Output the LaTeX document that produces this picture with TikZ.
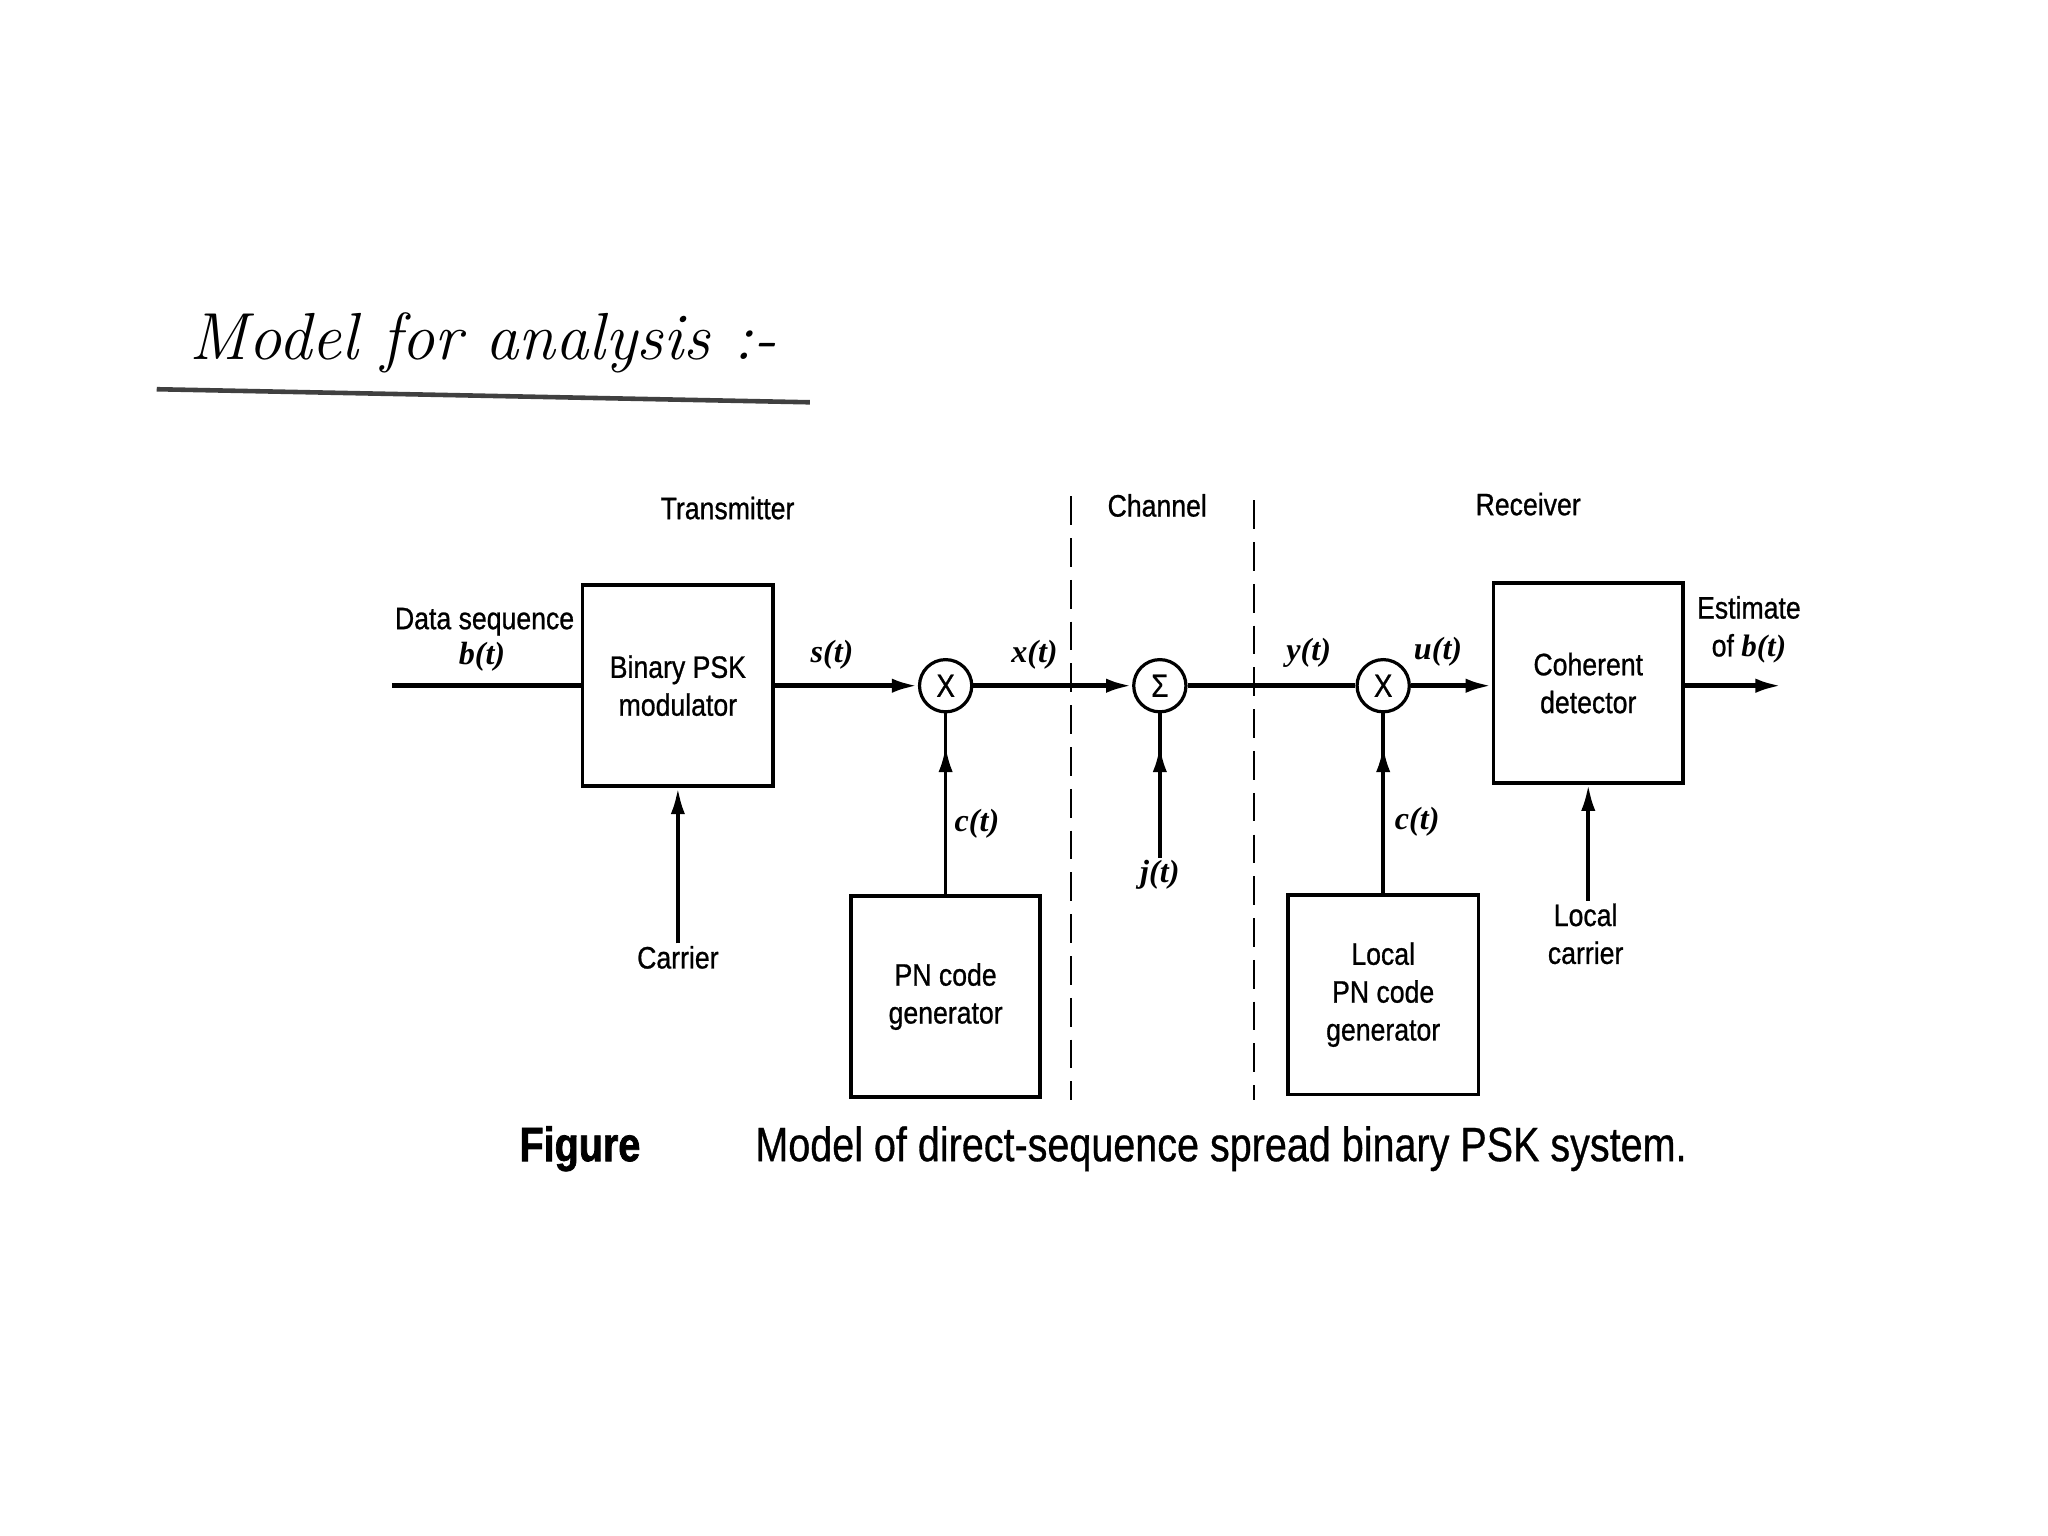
\documentclass[tikz,border=0pt]{standalone}
\usepackage{fontspec}
\newfontfamily\labfont[FakeStretch=0.86,FakeBold=0.8]{Liberation Sans}
\newfontfamily\capfont[FakeStretch=0.82,FakeBold=0.6]{Liberation Sans}
\newfontfamily\figfont[FakeStretch=0.82,FakeBold=1.5]{Liberation Sans}
\newfontfamily\sigfont{Liberation Serif}
\usetikzlibrary{arrows.meta,decorations.markings}
\tikzset{
  tip/.tip={Latex[length=0.4cm,width=0.22cm]},
  blk/.style={draw, line width=1.6pt, inner sep=0pt, align=center,
    font=\labfont\fontsize{13.5}{16.5}\selectfont},
  mult/.style={circle, draw, line width=1.4pt, minimum size=0.8cm, inner sep=0pt,
    font=\labfont\fontsize{14}{14}\selectfont},
  lab/.style={font=\labfont\fontsize{13.5}{16.5}\selectfont, align=center, inner sep=1pt},
  sigl/.style={font=\sigfont\bfseries\itshape\fontsize{14}{16}\selectfont, inner sep=1pt},
  mainline/.style={line width=2pt},
  vline/.style={line width=1.6pt},
  upmark/.style={postaction={decorate}, decoration={markings,
    mark=at position -0.5cm with {\arrow{tip}}}},
  sep/.style={line width=1.2pt, dash pattern=on 0.44cm off 0.2cm},
}
\begin{document}
\begin{tikzpicture}[x=0.02cm,y=-0.02cm]
\useasboundingbox (0,0) rectangle (1568,1176);

% handwritten title
\node[anchor=base west, inner sep=0pt, font=\rmfamily\itshape\fontsize{29}{29}\selectfont] (title) at (145,275) {Model for analysis :-};
\draw[line width=2pt, black!75] (120,298) -- (620,308);

% section labels
\node[lab] (tx) at (557,389) {Transmitter};
\node[lab] (ch) at (886,387) {Channel};
\node[lab] (rx) at (1170,386) {Receiver};

% separators
\draw[sep] (820,380) -- (820,842);
\draw[sep] (960,383) -- (960,842);

% blocks
\node[blk, minimum width=2.92cm, minimum height=3.08cm] (psk) at (519,525) {Binary PSK\\modulator};
\node[blk, minimum width=2.90cm, minimum height=3.08cm] (pn1) at (724,763) {PN code\\generator};
\node[blk, minimum width=2.92cm, minimum height=3.06cm] (pn2) at (1059,761.5) {Local\\PN code\\generator};
\node[blk, minimum width=2.90cm, minimum height=3.06cm] (det) at (1216,523) {Coherent\\detector};

\node[mult] (m1) at (724,525) {X};
\node[mult] (sum) at (888,525) {\labfont Σ};
\node[mult] (m2) at (1059,525) {X};

% external labels
\node[lab] (data) at (371,476) {Data sequence};
\node[sigl] (bt) at (369,503) {b(t)};
\node[sigl] (st) at (637,501) {s(t)};
\node[sigl] (xt) at (792,501) {x(t)};
\node[sigl] (yt) at (1002,500) {y(t)};
\node[sigl] (ut) at (1101,499) {u(t)};
\node[lab] (est) at (1339,482) {Estimate\\of \textbf{\textit{\sigfont b(t)}}};
\node[lab] (car) at (519,733) {Carrier};
\node[sigl] (ct1) at (748,631) {c(t)};
\node[sigl] (ct2) at (1085,629) {c(t)};
\node[sigl] (jt) at (888,670) {j(t)};
\node[lab] (lcar) at (1214,715) {Local\\carrier};

\coordinate (in) at (300,525);
\coordinate (out) at (1364,525);

% connectors
\draw[mainline] (in) -- (psk);
\draw[mainline,-tip] (psk) -- (m1);
\draw[mainline,-tip] (m1) -- (sum);
\draw[mainline] (sum) -- (m2);
\draw[mainline,-tip] (m2) -- (m2 -| det.west);
\draw[mainline,-tip] (out -| det.east) -- (out);

\draw[vline,-tip] (car.north) -- (psk.south);
\draw[vline,upmark] (pn1) -- (m1);
\draw[vline,upmark] (jt.north) -- (sum);
\draw[vline,upmark] (pn2) -- (m2);
\draw[vline,-tip] (lcar.north -| det.south) -- (det.south);

% caption
\node[anchor=base, inner sep=0pt, font=\figfont\bfseries\fontsize{21}{21}\selectfont] (figlbl) at (444,889) {Figure};
\node[anchor=base west, inner sep=0pt, font=\capfont\fontsize{21}{21}\selectfont] (cap) at (578,889) {Model of direct-sequence spread binary PSK system.};
\end{tikzpicture}
\end{document}
